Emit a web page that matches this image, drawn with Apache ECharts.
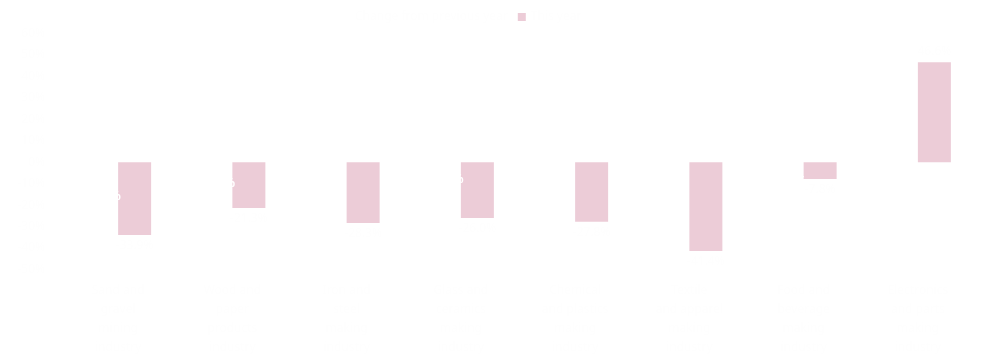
<!DOCTYPE html>
<html>
<head>
<meta charset="utf-8">
<style>
  html, body { margin: 0; padding: 0; background: #ffffff; }
  #chart { width: 985px; height: 363px; }
</style>
<script src="https://cdn.jsdelivr.net/npm/echarts@6/dist/echarts.min.js"></script>
</head>
<body>
<div id="chart"></div>
<script>
const categories = [
  'Sand and\ngravel\nmining\nindustry',
  'Wood and\npaper\nproducts\nindustry',
  'Iron and\nsteel\nmaking\nindustry',
  'Glass and\nceramics\nmaking\nindustry',
  'Chemical\nand plastics\nmaking\nindustry',
  'Textile\nand apparel\nmaking\nindustry',
  'Food and\nbeverage\nmaking\nindustry',
  'Electronics\nand parts\nmaking\nindustry'
];
const seriesNames = ['Change from previous year', 'This year'];
const previousValues = [-31.7, -20.0, 9.5, -15.9, 8.2, 12.4, -18.0, -20.5];
const currentValues = [-33.9, -21.3, -28.3, -26.0, -27.8, -41.4, -7.8, 46.6];
const yTicks = { min: -50, max: 60, interval: 10 };

const faint = '#fefefe';
const fmt = p => p.value.toFixed(1) + '%';
const withPos = arr => arr.map(v => ({ value: v, label: { position: v < 0 ? 'bottom' : 'top' } }));

const chart = echarts.init(document.getElementById('chart'), null, { renderer: 'canvas' });
chart.setOption({
  animation: false,
  backgroundColor: '#ffffff',
  color: ['#ffffff', '#ecccd7'],
  legend: {
    top: 6,
    left: 337,
    icon: 'rect',
    itemWidth: 8,
    itemHeight: 8,
    itemGap: 10,
    textStyle: { color: faint, fontSize: 12, fontFamily: 'Noto Sans' },
    data: seriesNames
  },
  grid: { left: 61, right: 10, top: 33.5, bottom: 93.5, containLabel: false },
  xAxis: {
    type: 'category',
    data: categories,
    axisLine: { show: false },
    axisTick: { show: false },
    axisLabel: { color: faint, fontSize: 12, lineHeight: 19, margin: 12, interval: 0, fontFamily: 'Noto Sans' }
  },
  yAxis: {
    type: 'value',
    min: yTicks.min,
    max: yTicks.max,
    interval: yTicks.interval,
    axisLine: { show: false },
    axisTick: { show: false },
    splitLine: { show: false },
    axisLabel: { color: faint, fontSize: 12, margin: 16, formatter: '{value}%', fontFamily: 'Noto Sans' }
  },
  series: [
    {
      name: seriesNames[0],
      type: 'bar',
      barWidth: 33,
      barGap: '0%',
      data: previousValues,
      label: { show: true, position: 'inside', color: '#ffffff', fontSize: 12, fontWeight: 'bold', formatter: fmt, fontFamily: 'Noto Sans' }
    },
    {
      name: seriesNames[1],
      type: 'bar',
      barWidth: 33,
      barGap: '0%',
      data: withPos(currentValues),
      label: { show: true, color: faint, fontSize: 12, formatter: fmt, distance: 5, fontFamily: 'Noto Sans' }
    }
  ]
});
</script>
</body>
</html>
